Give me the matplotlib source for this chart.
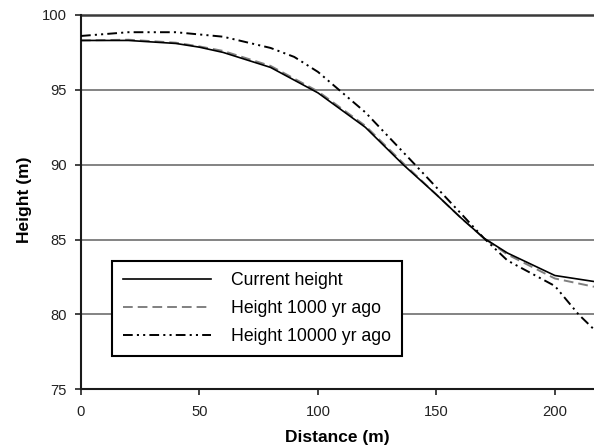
import matplotlib
matplotlib.use("Agg")
import matplotlib.pyplot as plt

plt.rcParams['font.family'] = ['Liberation Sans', 'DejaVu Sans']
plt.rcParams['lines.scale_dashes'] = False

# Data
x_current = [0, 20, 40, 50, 60, 80, 100, 120, 136, 150, 160, 170, 180, 200, 216.5]
y_current = [98.3, 98.3, 98.1, 97.85, 97.5, 96.5, 94.8, 92.5, 90.0, 88.0, 86.5, 85.1, 84.1, 82.6, 82.2]

x_1000 = [0, 20, 40, 50, 60, 80, 100, 120, 136, 150, 160, 170, 180, 200, 216.5]
y_1000 = [98.3, 98.35, 98.15, 97.9, 97.6, 96.6, 94.9, 92.6, 90.1, 88.0, 86.5, 85.1, 84.0, 82.4, 81.85]

x_10000 = [0, 20, 40, 60, 80, 90, 100, 120, 141, 160, 170, 180, 200, 210, 216.5]
y_10000 = [98.6, 98.85, 98.85, 98.55, 97.8, 97.2, 96.2, 93.5, 90.0, 86.8, 85.1, 83.6, 81.9, 80.0, 79.0]

labels = ["Current height", "Height 1000 yr ago", "Height 10000 yr ago"]
xticks = [0, 50, 100, 150, 200]
yticks = [75, 80, 85, 90, 95, 100]

fig = plt.figure(figsize=(5.94, 4.47), dpi=100)
ax = fig.add_axes([81/594, 1-389.3/447, 1-81/594, (389.3-15)/447])

for yv in [80, 85, 90, 95]:
    ax.axhline(yv, color='#7a7a7a', lw=1.3, zorder=1)
ax.axhline(100, color='#3a3a3a', lw=1.8, zorder=1, clip_on=False)

ax.plot(x_current, y_current, color='black', lw=1.2, ls='-', label=labels[0], zorder=3)
ax.plot(x_1000, y_1000, color='#808080', lw=1.4, ls=(0, (7, 3.6)), label=labels[1], zorder=2)
ax.plot(x_10000, y_10000, color='black', lw=1.4, ls=(0, (7, 3, 1.5, 3, 1.5, 3)), label=labels[2], zorder=3)

ax.set_xlim(0, 216.5)
ax.set_ylim(75, 100)
ax.set_xticks(xticks)
ax.set_yticks(yticks)
ax.tick_params(direction='out', length=4, width=1.2, labelsize=10.6, colors='#222222')
ax.tick_params(axis='x', pad=7)
ax.tick_params(axis='y', pad=6)
for s in ['top', 'right']:
    ax.spines[s].set_visible(False)
for s in ['left', 'bottom']:
    ax.spines[s].set_linewidth(1.5)
    ax.spines[s].set_color('#1a1a1a')

ax.set_xlabel('Distance (m)', fontsize=12.5, fontweight='bold')
ax.set_ylabel('Height (m)', fontsize=12.5, fontweight='bold')
ax.xaxis.set_label_coords(0.5, -0.108)
ax.yaxis.set_label_coords(-0.096, 0.506)

leg = ax.legend(loc='lower left', bbox_to_anchor=(0.061, 0.089), fontsize=12.7,
                frameon=True, fancybox=False, edgecolor='black', framealpha=1,
                handlelength=5.0, handletextpad=1.15, labelspacing=0.64,
                borderpad=0.6, borderaxespad=0)
leg.get_frame().set_linewidth(1.5)
leg.set_zorder(5)

fig.savefig('out.png', dpi=100)
